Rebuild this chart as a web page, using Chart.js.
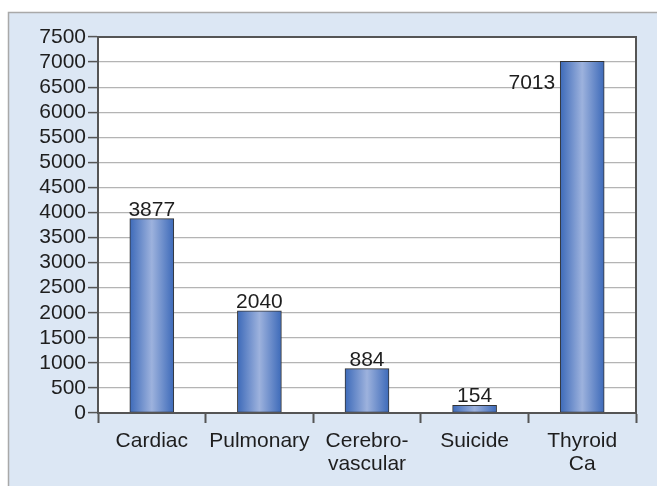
<!DOCTYPE html>
<html>
<head>
<meta charset="utf-8">
<script src="https://cdn.jsdelivr.net/npm/chart.js@4"></script>
<style>
  html, body { margin: 0; padding: 0; background: #ffffff; }
  #wrap { width: 657px; height: 486px; }
</style>
</head>
<body>
<div id="wrap"><canvas id="deathsChart"></canvas></div>
<script>
const categories = ["Cardiac", "Pulmonary", ["Cerebro-", "vascular"], "Suicide", ["Thyroid", "Ca"]];
const values = [3877, 2040, 884, 154, 7013];
const yTicks = [0, 500, 1000, 1500, 2000, 2500, 3000, 3500, 4000, 4500, 5000, 5500, 6000, 6500, 7000, 7500];

const FONT = "'Liberation Sans', Arial, sans-serif";

// light blue panel behind everything
const panelPlugin = {
  id: "panel",
  beforeDraw(chart) {
    const c = chart.ctx;
    c.save();
    c.fillStyle = "#ffffff";
    c.fillRect(0, 0, chart.width, chart.height);
    c.fillStyle = "#dce7f4";
    c.fillRect(8, 12, chart.width - 8, chart.height - 12);
    c.strokeStyle = "#a9a9a9";
    c.lineWidth = 1.5;
    c.beginPath();
    c.moveTo(8.5, chart.height);
    c.lineTo(8.5, 12.5);
    c.lineTo(chart.width, 12.5);
    c.stroke();
    const a = chart.chartArea;
    c.fillStyle = "#ffffff";
    c.fillRect(a.left, a.top, a.right - a.left, a.bottom - a.top);
    c.restore();
  },
};

// horizontal gradient on each bar, plus frame and value labels
const barPlugin = {
  id: "barStyle",
  beforeDatasetsDraw(chart) {
    const c = chart.ctx;
    chart.getDatasetMeta(0).data.forEach((bar) => {
      const w = bar.width;
      const g = c.createLinearGradient(bar.x - w / 2, 0, bar.x + w / 2, 0);
      g.addColorStop(0, "#3d6ab9");
      g.addColorStop(0.5, "#9db2dd");
      g.addColorStop(1, "#3d6ab9");
      bar.options.backgroundColor = g;
    });
  },
  afterDatasetsDraw(chart) {
    const c = chart.ctx;
    const a = chart.chartArea;
    c.save();
    c.strokeStyle = "#555555";
    c.lineWidth = 2;
    c.strokeRect(a.left, a.top, a.right - a.left, a.bottom - a.top);
    c.font = "21px " + FONT;
    c.fillStyle = "#1e1e1e";
    chart.getDatasetMeta(0).data.forEach((bar, i) => {
      const txt = String(values[i]);
      if (bar.y - 26 < a.top) {
        c.textAlign = "right";
        c.textBaseline = "middle";
        c.fillText(txt, bar.x - bar.width / 2 - 5, bar.y + 22);
      } else {
        c.textAlign = "center";
        c.textBaseline = "alphabetic";
        c.fillText(txt, bar.x, bar.y - 3);
      }
    });
    c.restore();
  },
};

new Chart(document.getElementById("deathsChart"), {
  type: "bar",
  data: {
    labels: categories,
    datasets: [
      {
        data: values,
        // scriptable so every bar gets its own options object
        backgroundColor: (ctx) => "#5a80c6",
        borderColor: "#333333",
        borderWidth: 1,
        borderSkipped: false,
      },
    ],
  },
  options: {
    responsive: true,
    maintainAspectRatio: false,
    animation: false,
    layout: { padding: { left: 0, top: 37, right: 21, bottom: 0 } },
    plugins: {
      legend: { display: false },
      tooltip: { enabled: false },
    },
    barThickness: 44,
    scales: {
      x: {
        afterFit(scale) { scale.height = 73; },
        grid: {
          offset: true,
          drawOnChartArea: false,
          drawTicks: true,
          tickLength: 10,
          tickColor: "#555555",
          tickWidth: 2,
        },
        border: { color: "#555555", width: 2 },
        ticks: {
          color: "#1e1e1e",
          padding: 6,
          maxRotation: 0,
          autoSkip: false,
          font: { family: FONT, size: 21, lineHeight: 1.12 },
        },
      },
      y: {
        min: yTicks[0],
        max: yTicks[yTicks.length - 1],
        afterFit(scale) { scale.width = 98; },
        afterBuildTicks(scale) {
          scale.ticks = yTicks.map((v) => ({ value: v }));
        },
        grid: {
          color: "#b4b4b4",
          lineWidth: 1.2,
          tickLength: 10,
          tickColor: "#555555",
          tickWidth: 1.5,
        },
        border: { color: "#555555", width: 2 },
        ticks: {
          color: "#1e1e1e",
          padding: 2,
          autoSkip: false,
          callback: (v) => String(v),
          font: { family: FONT, size: 21 },
        },
      },
    },
  },
  plugins: [panelPlugin, barPlugin],
});
</script>
</body>
</html>
